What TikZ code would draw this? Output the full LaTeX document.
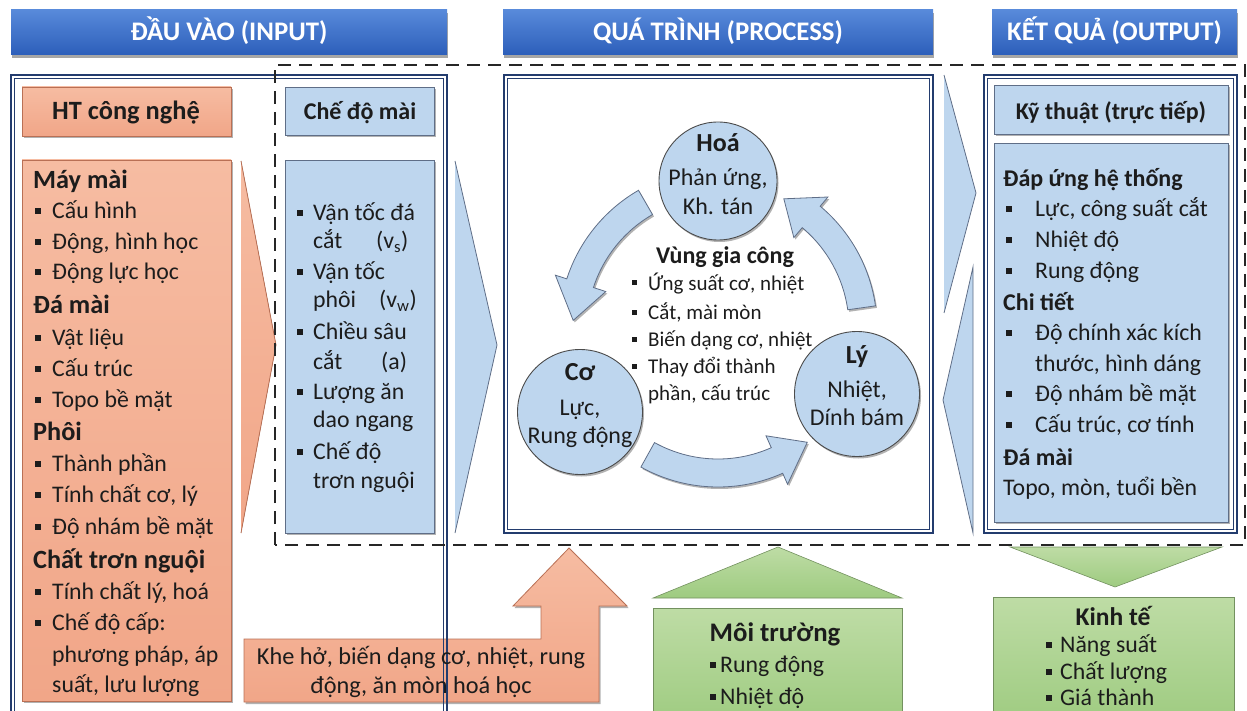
\documentclass[tikz,border=0pt]{standalone}
\usepackage{fontspec}
\setmainfont{Carlito}
\usetikzlibrary{shadows}
\definecolor{navy}{RGB}{35,60,110}
\definecolor{hdrT}{RGB}{88,138,218}
\definecolor{hdrB}{RGB}{44,94,186}
\definecolor{salT}{RGB}{246,188,162}
\definecolor{salB}{RGB}{241,166,136}
\definecolor{salD}{RGB}{185,112,85}
\definecolor{bluF}{RGB}{190,214,238}
\definecolor{bluD}{RGB}{95,110,135}
\definecolor{grnT}{RGB}{190,220,165}
\definecolor{grnB}{RGB}{158,203,128}
\definecolor{grnD}{RGB}{115,145,95}
\definecolor{txt}{RGB}{28,28,28}
\newcommand\fsz[1]{\fontsize{#1}{#1}\selectfont}
\newcommand\bl[5]{\node[bul] (#1b) at (#2,#4) {};\node[tx] (#1) at (#3,#4) {#5};}
\begin{document}
\begin{tikzpicture}[x=1pt,y=-1pt,
  sh/.style={drop shadow={shadow xshift=1.5pt,shadow yshift=-2pt,opacity=.3,fill=black}},
  hdr/.style={top color=hdrT,bottom color=hdrB,draw=none,drop shadow={shadow xshift=1pt,shadow yshift=-3pt,opacity=.35,fill=black}},
  htx/.style={anchor=mid,inner sep=0pt,font=\fsz{26.8}\bfseries,text=white,yshift=-6pt},
  fro/.style={draw=navy,line width=2.2pt},
  fri/.style={draw=navy,line width=0.7pt},
  sal/.style={top color=salT,bottom color=salB,draw=salD,line width=0.8pt,sh},
  blu/.style={fill=bluF,draw=bluD,line width=0.9pt,sh},
  grn/.style={top color=grnT,bottom color=grnB,draw=grnD,line width=0.6pt},
  arr/.style={fill=bluF,draw=bluD,line width=0.8pt,sh},
  circ/.style={circle,fill=bluF,draw=black!70,line width=0.9pt,inner sep=0pt,sh},
  tx/.style={anchor=mid west,inner sep=0pt,font=\fsz{23.8},text=txt,yshift=-5.5pt},
  hb/.style={anchor=mid west,inner sep=0pt,font=\fsz{26.3}\bfseries,text=txt,yshift=-6pt},
  ct/.style={anchor=mid,inner sep=0pt,font=\fsz{24}},
  ct/.append style={text=txt,yshift=-5.5pt},
  cb/.style={anchor=mid,inner sep=0pt,font=\fsz{26}\bfseries,text=txt,yshift=-6pt},
  bul/.style={rectangle,fill=txt,minimum size=5.5pt,inner sep=0pt},
  dsh/.style={draw=black!85,line width=2.3pt,dash pattern=on 13pt off 8pt}]
\useasboundingbox (0,0) rectangle (1247,711);
% headers
\path[hdr] (11,10) rectangle (447,55);
\node[htx] (h1) at (229,32.5) {ĐẦU VÀO (INPUT)};
\path[hdr] (503,10) rectangle (933,55);
\node[htx] (h2) at (718,32.5) {QUÁ TRÌNH (PROCESS)};
\path[hdr] (992,10) rectangle (1237,55);
\node[htx] (h3) at (1114.5,32.5) {KẾT QUẢ (OUTPUT)};
% bottom salmon arrow-box
\path[sal] (244,639) -- (541,639) -- (541,606) -- (513,606) -- (569,548) -- (627,606) -- (599,606) -- (599,702) -- (244,702) -- cycle;
% frames
\draw[fro] (11,725) -- (11,75) -- (447,75) -- (447,725);
\draw[fri] (14.5,725) -- (14.5,78.5) -- (443.5,78.5) -- (443.5,725);
\draw[fro] (504,75) rectangle (933,533);
\draw[fri] (507.5,78.5) rectangle (929.5,529.5);
\draw[fro] (984,75) rectangle (1237,533);
\draw[fri] (987.5,78.5) rectangle (1233.5,529.5);
% input boxes
\path[sal] (22,87) rectangle (231,136);
\path[sal] (22,160) rectangle (231,701);
\path[blu] (285,87) rectangle (434,135);
\path[blu] (285,160) rectangle (434,533);
% wedges
\fill[top color=salT,bottom color=salB] (241,161) -- (276,345) -- (241,533) -- cycle;
\draw[salD,line width=0.8pt] (241,161) -- (276,345) -- (241,533);
\fill[bluF] (455,161) -- (497,345) -- (455,533) -- cycle;
\draw[bluD,line width=0.8pt] (455,161) -- (497,345) -- (455,533);
\fill[bluF] (944,75) -- (976,193) -- (944,313) -- cycle;
\draw[bluD,line width=0.8pt] (944,75) -- (976,193) -- (944,313);
\fill[bluF] (973,267) -- (943,400) -- (973,533) -- cycle;
\draw[bluD,line width=0.8pt] (973,267) -- (943,400) -- (973,533) -- cycle;
% output boxes
\path[blu] (994,85) rectangle (1228,134);
\path[blu] (994,143) rectangle (1228,522);
% green
\path[grn] (653,598) -- (778,547) -- (902,598) -- cycle;
\path[grn] (653,608) rectangle (902,725);
\path[grn] (1010,547) -- (1222,547) -- (1115,587) -- cycle;
\path[grn] (993,597) rectangle (1234,725);
% circular arrows
\begin{scope}[shift={(718,328)}]
\path[arr] (-120:159) arc[start angle=-120,end angle=-162,radius=159] -- (-162:171) -- (-177:145) -- (-162:118) -- (-162:131) arc[start angle=-162,end angle=-120,radius=131] -- cycle;
\path[arr] (-241:159) arc[start angle=-241,end angle=-294,radius=159] -- (-294:171) -- (-308:145) -- (-294:118) -- (-294:131) arc[start angle=-294,end angle=-241,radius=131] -- cycle;
\path[arr] (-8:159) arc[start angle=-8,end angle=-50,radius=159] -- (-50:171) -- (-63:145) -- (-50:118) -- (-50:131) arc[start angle=-50,end angle=-8,radius=131] -- cycle;
\end{scope}
% circles
\node[circ,minimum size=118] (hoa) at (718,181) {};
\node[circ,minimum size=125] (co) at (580,412) {};
\node[circ,minimum size=125] (ly) at (857,394) {};
\node[cb] (hoaT) at (718,143) {Hoá};
\node[ct] (hoa1) at (718,178) {Phản ứng,};
\node[ct] (hoa2) at (718,207) {Kh. tán};
\node[cb] (coT) at (580,372) {Cơ};
\node[ct] (co1) at (580,408) {Lực,};
\node[ct] (co2) at (580,436) {Rung động};
\node[cb] (lyT) at (857,355) {Lý};
\node[ct] (ly1) at (857,390) {Nhiệt,};
\node[ct] (ly2) at (857,418) {Dính bám};
% centre text
\node[cb,font=\fsz{24}\bfseries] (vgc) at (725,255) {Vùng gia công};
\begin{scope}[tx/.append style={font=\fsz{21}},bul/.append style={minimum size=5pt}]
\bl{v1}{634}{648}{283}{Ứng suất cơ, nhiệt}
\bl{v2}{634}{648}{312}{Cắt, mài mòn}
\bl{v3}{634}{648}{339}{Biến dạng cơ, nhiệt}
\bl{v4}{634}{648}{366}{Thay đổi thành}
\node[tx] (v5) at (648,393) {phần, cấu trúc};
\end{scope}
% input texts
\node[cb,font=\fsz{26.4}\bfseries] (ht) at (126,111) {HT công nghệ};
\node[cb,font=\fsz{24}\bfseries] (cdm) at (360,111) {Chế độ mài};
\node[hb] (m1) at (33,180) {Máy mài};
\bl{a1}{38}{52}{211}{Cấu hình}
\bl{a2}{38}{52}{242}{Động, hình học}
\bl{a3}{38}{52}{272}{Động lực học}
\node[hb] (m2) at (33,305) {Đá mài};
\bl{a4}{38}{52}{338}{Vật liệu}
\bl{a5}{38}{52}{369}{Cấu trúc}
\bl{a6}{38}{52}{400}{Topo bề mặt}
\node[hb] (m3) at (33,432) {Phôi};
\bl{a7}{38}{52}{464}{Thành phần}
\bl{a8}{38}{52}{495}{Tính chất cơ, lý}
\bl{a9}{38}{52}{527}{Độ nhám bề mặt}
\node[hb] (m4) at (33,560) {Chất trơn nguội};
\bl{a10}{38}{52}{592}{Tính chất lý, hoá}
\bl{a11}{38}{52}{623}{Chế độ cấp:}
\node[tx] (a12) at (52,655) {phương pháp, áp};
\node[tx] (a13) at (52,685) {suất, lưu lượng};
% blue list
\bl{c1}{300}{313}{213}{Vận tốc đá}
\node[tx] (c2) at (313,241) {cắt};
\node[tx] (c2v) at (376,241) {(v\textsubscript{s})};
\bl{c3}{300}{313}{272}{Vận tốc}
\node[tx] (c4) at (313,300) {phôi};
\node[tx] (c4v) at (379,300) {(v\textsubscript{w})};
\bl{c5}{300}{313}{332}{Chiều sâu}
\node[tx] (c6) at (313,362) {cắt};
\node[tx] (c6v) at (381,362) {(a)};
\bl{c7}{300}{313}{392}{Lượng ăn}
\node[tx] (c8) at (313,420) {dao ngang};
\bl{c9}{300}{313}{452}{Chế độ}
\node[tx] (c10) at (313,481) {trơn nguội};
% khe ho text
\node[ct,font=\fsz{24.3}] (k1) at (421,657) {Khe hở, biến dạng cơ, nhiệt, rung};
\node[ct,font=\fsz{24.3}] (k2) at (421,686) {động, ăn mòn hoá học};
% moi truong
\node[cb,font=\fsz{26.8}\bfseries] (mt) at (775,633) {Môi trường};
\bl{mt1}{713}{720}{665}{Rung động}
\bl{mt2}{713}{720}{697}{Nhiệt độ}
% output texts
\node[cb,font=\fsz{24}\bfseries] (kt) at (1111,111) {Kỹ thuật (trực tiếp)};
\node[hb,font=\fsz{24}\bfseries] (o1) at (1003,178) {Đáp ứng hệ thống};
\bl{o2}{1009}{1035}{209}{Lực, công suất cắt}
\bl{o3}{1009}{1035}{240}{Nhiệt độ}
\bl{o4}{1009}{1035}{271}{Rung động}
\node[hb,font=\fsz{24}\bfseries] (o5) at (1003,302) {Chi tiết};
\bl{o6}{1009}{1035}{333}{Độ chính xác kích}
\node[tx] (o7) at (1035,364) {thước, hình dáng};
\bl{o8}{1009}{1035}{394}{Độ nhám bề mặt}
\bl{o9}{1009}{1035}{425}{Cấu trúc, cơ tính}
\node[hb,font=\fsz{24}\bfseries] (o10) at (1003,457) {Đá mài};
\node[tx] (o11) at (1003,488) {Topo, mòn, tuổi bền};
% kinh te
\node[cb,font=\fsz{25.5}\bfseries] (ktt) at (1113,617) {Kinh tế};
\bl{e1}{1049}{1060}{645}{Năng suất}
\bl{e2}{1049}{1060}{672}{Chất lượng}
\bl{e3}{1049}{1060}{698}{Giá thành}
% dashed boundary
\draw[dsh] (275,545) -- (275,65) -- (1245,65) -- (1245,545) -- cycle;
\end{tikzpicture}
\end{document}
